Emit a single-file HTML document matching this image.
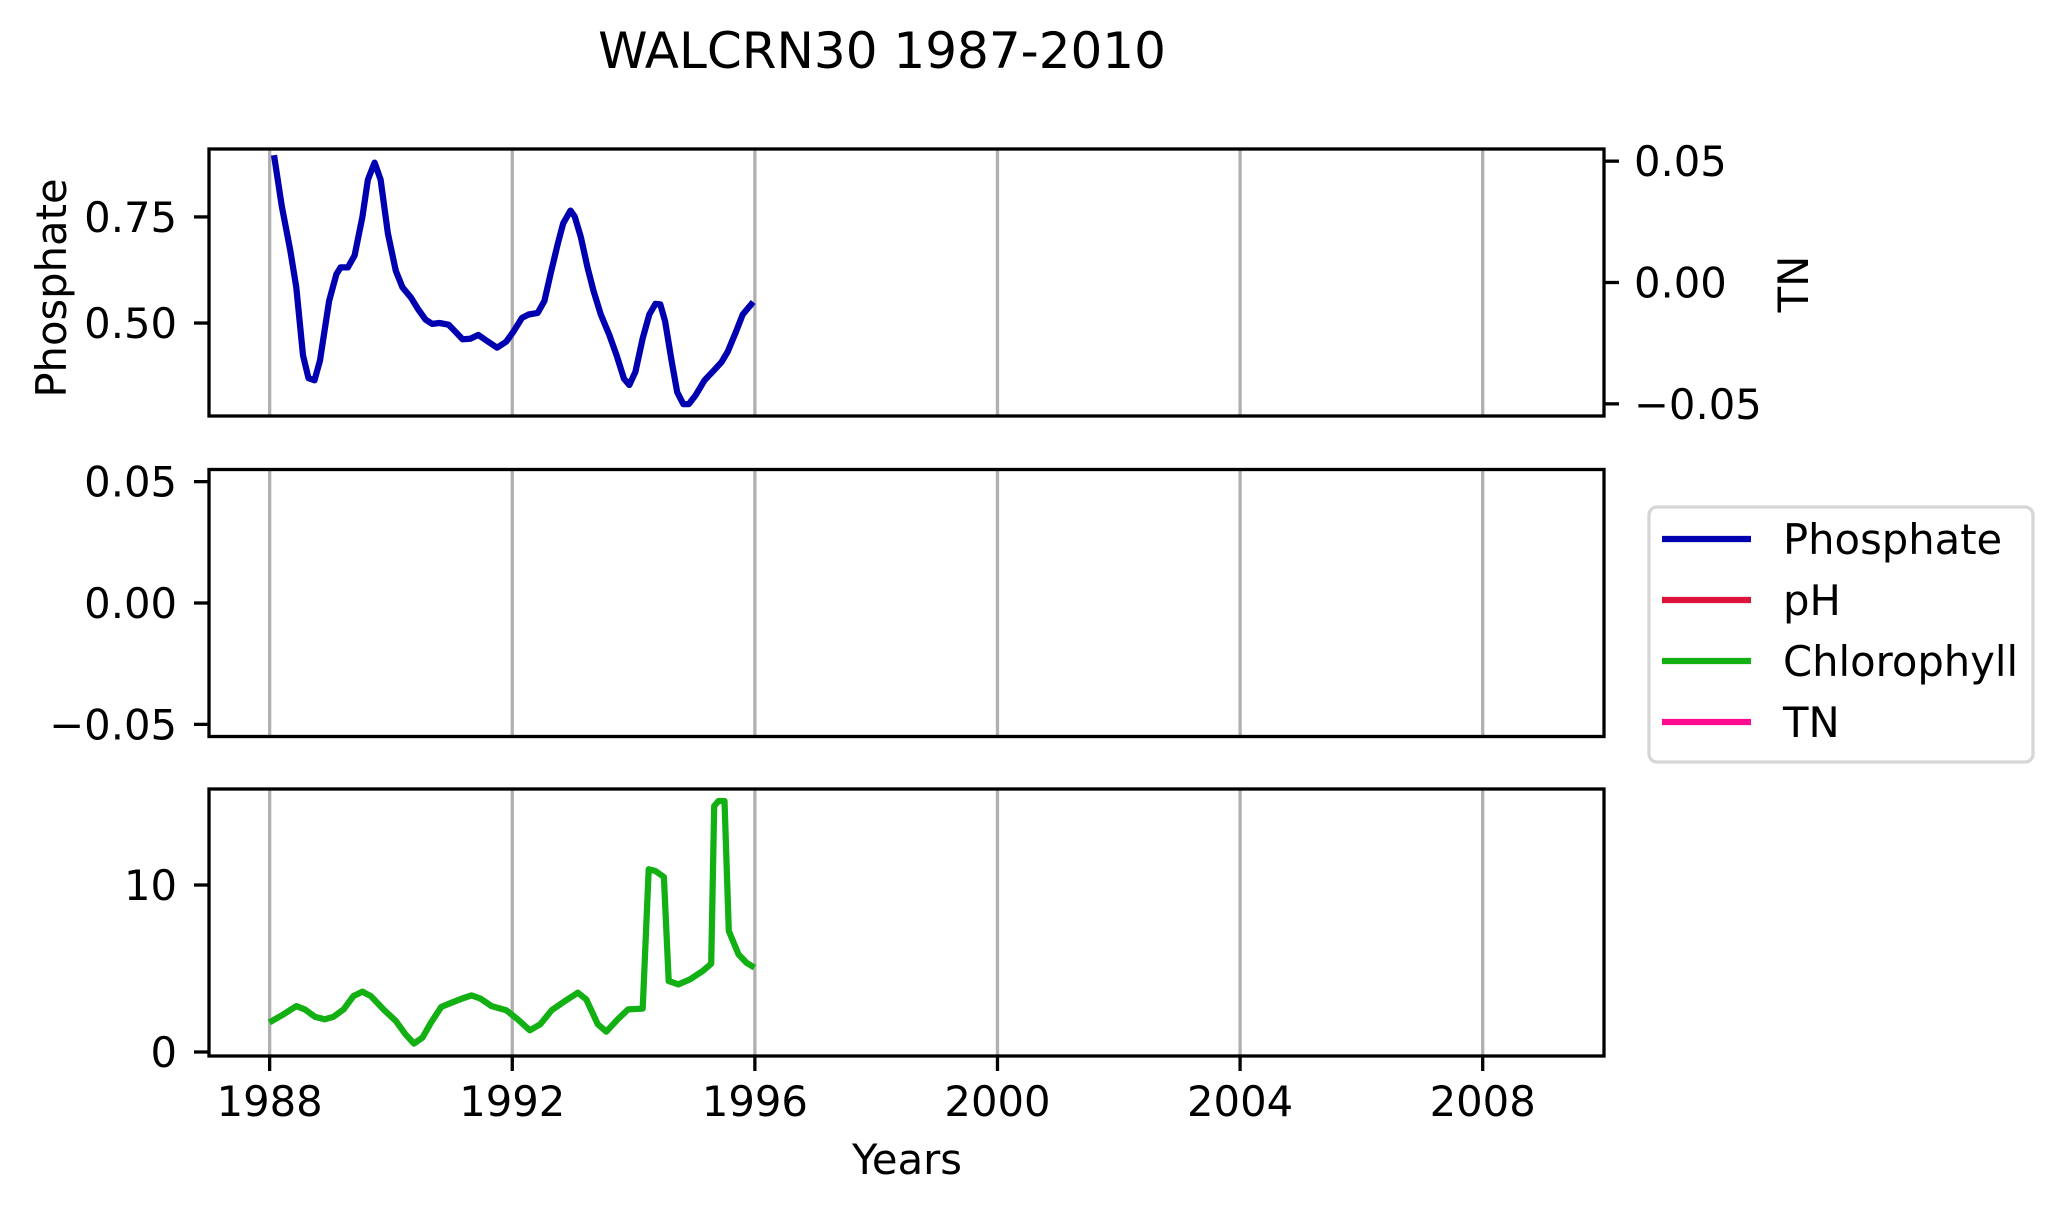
<!DOCTYPE html>
<html><head><meta charset="utf-8"><style>
html,body{margin:0;padding:0;background:#fff;}
svg{display:block;font-family:"DejaVu Sans","Liberation Sans",sans-serif;}
</style></head><body>
<svg id="chart" width="2062" height="1211" viewBox="0 0 2062 1211" xmlns="http://www.w3.org/2000/svg">
<rect width="2062" height="1211" fill="#fff"/>
<text x="882" y="68" font-size="50" text-anchor="middle">WALCRN30 1987-2010</text>
<g id="g"></g>
</svg>
<script>
const xTicks = [1988, 1992, 1996, 2000, 2004, 2008];
const phosYears = [1988.08,1988.2,1988.34,1988.44,1988.55,1988.64,1988.74,1988.83,1988.98,1989.1,1989.17,1989.29,1989.4,1989.53,1989.62,1989.73,1989.83,1989.95,1990.08,1990.19,1990.33,1990.45,1990.57,1990.68,1990.8,1990.95,1991.06,1991.18,1991.31,1991.44,1991.56,1991.75,1991.9,1992.02,1992.16,1992.27,1992.42,1992.53,1992.63,1992.75,1992.84,1992.96,1993.03,1993.13,1993.24,1993.34,1993.46,1993.6,1993.72,1993.84,1993.93,1994.03,1994.15,1994.26,1994.36,1994.44,1994.52,1994.63,1994.72,1994.82,1994.91,1995.02,1995.17,1995.31,1995.45,1995.55,1995.69,1995.8,1995.94];
const phosValues = [0.888,0.775,0.671,0.584,0.424,0.37,0.365,0.412,0.552,0.615,0.631,0.631,0.659,0.75,0.838,0.878,0.838,0.711,0.623,0.584,0.56,0.532,0.508,0.498,0.5,0.496,0.48,0.462,0.463,0.472,0.46,0.442,0.456,0.48,0.512,0.52,0.524,0.552,0.615,0.687,0.735,0.765,0.751,0.703,0.631,0.576,0.52,0.472,0.424,0.369,0.354,0.385,0.464,0.52,0.545,0.544,0.504,0.408,0.337,0.309,0.309,0.329,0.365,0.386,0.408,0.432,0.48,0.52,0.544];
const chlYears = [1988.04,1988.23,1988.44,1988.58,1988.75,1988.91,1989.05,1989.22,1989.38,1989.53,1989.67,1989.89,1990.08,1990.24,1990.38,1990.52,1990.66,1990.83,1991.04,1991.18,1991.33,1991.47,1991.66,1991.9,1992.09,1992.29,1992.46,1992.65,1992.89,1993.08,1993.22,1993.41,1993.55,1993.74,1993.91,1994.15,1994.25,1994.36,1994.5,1994.58,1994.74,1994.93,1995.14,1995.28,1995.33,1995.4,1995.5,1995.57,1995.73,1995.86,1995.95];
const chlValues = [1.86,2.26,2.75,2.55,2.1,1.96,2.1,2.55,3.35,3.61,3.35,2.5,1.86,1.06,0.5,0.86,1.76,2.7,3.01,3.21,3.39,3.21,2.75,2.5,1.96,1.3,1.66,2.5,3.1,3.55,3.15,1.66,1.22,1.96,2.55,2.6,10.94,10.84,10.48,4.25,4.05,4.35,4.85,5.29,14.73,15.03,15.03,7.25,5.85,5.35,5.15];
const phosTicks = [0.5, 0.75];
const tnTicks = [-0.05, 0, 0.05];
const phTicks = [-0.05, 0, 0.05];
const chlTicks = [0, 10];
const legendNames = ["Phosphate","pH","Chlorophyll","TN"];
const legendColors = ["#0000b0","#dc143c","#12b012","#ff0a90"];

const NS="http://www.w3.org/2000/svg";
const g=document.getElementById('g');
function mk(tag,attrs,parent){const e=document.createElementNS(NS,tag);for(const k in attrs)e.setAttribute(k,attrs[k]);(parent||g).appendChild(e);return e;}
const L=209,R=1604;
const X0=1987,X1=2010;
const xs=v=>L+(v-X0)/(X1-X0)*(R-L);
const panels=[{t:149,b:416,y0:0.281,y1:0.910},{t:469.5,b:736.5,y0:-0.055,y1:0.055},{t:789,b:1056,y0:-0.24,y1:15.75}];
const tnPanel={t:149,b:416,y0:-0.055,y1:0.055};
function ys(p,v){return p.b-(v-p.y0)/(p.y1-p.y0)*(p.b-p.t);}
const fmt2=v=>(v<0?'\u2212':'')+Math.abs(v).toFixed(2);

panels.forEach((p,i)=>{
  xTicks.forEach(t=>{
    const gl=mk('line',{x1:xs(t),x2:xs(t),y1:p.t,y2:p.b,stroke:'#b0b0b0','stroke-width':3.3});
    
    
  });
});

function leftTicks(p,ticks,f,name){
  ticks.forEach(t=>{
    const y=ys(p,t);
    const tk=mk('line',{x1:L-15,x2:L,y1:y,y2:y,stroke:'#000','stroke-width':3.3});
    
    
    const tx=mk('text',{x:177,y:y+15,'font-size':41.7,'text-anchor':'end'});
    tx.textContent=f(t);
    
    
  });
}
leftTicks(panels[0],phosTicks,fmt2,'phosphate-y');
leftTicks(panels[1],phTicks,fmt2,'ph-y');
leftTicks(panels[2],chlTicks,v=>String(v),'chlorophyll-y');
tnTicks.forEach(t=>{
  const y=ys(tnPanel,t);
  const tk=mk('line',{x1:R,x2:R+15,y1:y,y2:y,stroke:'#000','stroke-width':3.3});
  
  
  const tx=mk('text',{x:1634,y:y+15,'font-size':41.7});
  tx.textContent=fmt2(t);
  
  
});
xTicks.forEach(t=>{
  const x=xs(t);
  const tk=mk('line',{x1:x,x2:x,y1:1056,y2:1071,stroke:'#000','stroke-width':3.3});
  
  
  const tx=mk('text',{x:x,y:1116,'font-size':41.7,'text-anchor':'middle'});
  tx.textContent=String(t);
  
  
});

function line(p,xsA,ysA,color,name){
  const d=xsA.map((v,i)=>(i?'L':'M')+xs(v).toFixed(1)+','+ys(p,ysA[i]).toFixed(1)).join(' ');
  const pa=mk('path',{d:d,fill:'none',stroke:color,'stroke-width':6.25,'stroke-linejoin':'round','stroke-linecap':'square'});
  
  
}
line(panels[0],phosYears,phosValues,legendColors[0],'phosphate-line');
line(panels[2],chlYears,chlValues,legendColors[2],'chlorophyll-line');

panels.forEach((p,i)=>{
  const r=mk('rect',{x:L,y:p.t,width:R-L,height:p.b-p.t,fill:'none',stroke:'#000','stroke-width':3.3});
  
  
});

let t1=mk('text',{x:0,y:0,'font-size':41.7,'text-anchor':'middle',transform:'translate(66,288) rotate(-90)'});
t1.textContent='Phosphate';


let t2=mk('text',{x:0,y:0,'font-size':41.7,'text-anchor':'middle',transform:'translate(1808,284) rotate(-90)'});
t2.textContent='TN';


let t3=mk('text',{x:907,y:1174,'font-size':41.7,'text-anchor':'middle'});
t3.textContent='Years';



const lg=mk('rect',{x:1649,y:507,width:384,height:255,rx:8,fill:'#fff',stroke:'#d6d6d6','stroke-width':3.3});


legendNames.forEach((n,i)=>{
  const y=539+i*61;
  const ln=mk('line',{x1:1662,x2:1751,y1:y,y2:y,stroke:legendColors[i],'stroke-width':6.25});
  
  
  const tx=mk('text',{x:1783,y:y+15,'font-size':41.7});
  tx.textContent=n;
  
  
});
</script>
</body></html>
